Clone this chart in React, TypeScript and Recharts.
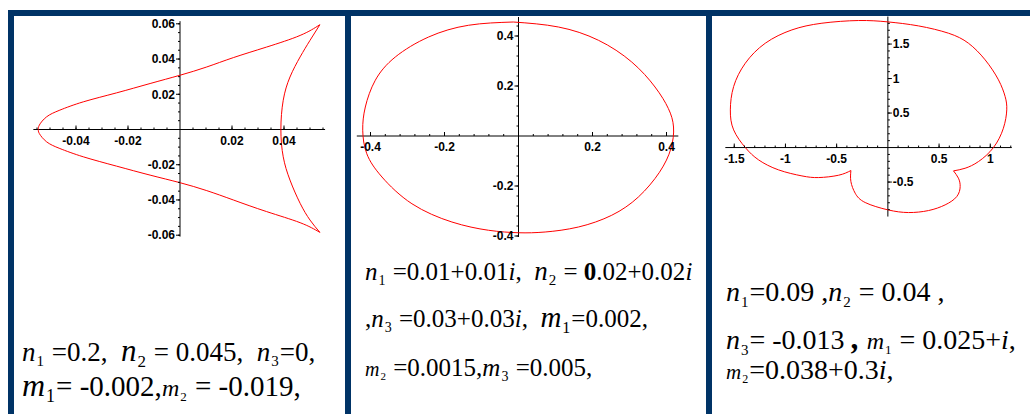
import React from "react";
import {
  LineChart,
  Line,
  XAxis,
  YAxis,
  ReferenceLine,
  ReferenceDot,
} from "recharts";

// ---- panel 1: cusped curve ----
const p1Branch = [
  { x: 0.0538, y: 0.0595 },
  { x: 0.0462, y: 0.0534 },
  { x: 0.0333, y: 0.0468 },
  { x: 0.0205, y: 0.0408 },
  { x: 0.0103, y: 0.0355 },
  { x: 0, y: 0.0308 },
  { x: -0.0115, y: 0.0261 },
  { x: -0.0244, y: 0.0208 },
  { x: -0.0372, y: 0.0157 },
  { x: -0.0462, y: 0.011 },
  { x: -0.0513, y: 0.0072 },
  { x: -0.0541, y: 0.0025 },
  { x: -0.0545, y: 0 },
  { x: -0.0541, y: -0.0023 },
  { x: -0.0513, y: -0.007 },
  { x: -0.0462, y: -0.0108 },
  { x: -0.0372, y: -0.0155 },
  { x: -0.0244, y: -0.0208 },
  { x: -0.0115, y: -0.0259 },
  { x: 0, y: -0.0302 },
  { x: 0.0103, y: -0.0347 },
  { x: 0.0205, y: -0.04 },
  { x: 0.0333, y: -0.0466 },
  { x: 0.0462, y: -0.0529 },
  { x: 0.0538, y: -0.0584 },
];
const p1Arc = [
  { x: 0.0538, y: -0.0584 },
  { x: 0.05, y: -0.0514 },
  { x: 0.0462, y: -0.0419 },
  { x: 0.0423, y: -0.0287 },
  { x: 0.0397, y: -0.0155 },
  { x: 0.0388, y: 0 },
  { x: 0.0397, y: 0.0166 },
  { x: 0.0423, y: 0.0298 },
  { x: 0.0462, y: 0.0412 },
  { x: 0.05, y: 0.0506 },
  { x: 0.0538, y: 0.0595 },
];
const p1XTicks = [-0.04, -0.02, 0.02, 0.04];
const p1XLabels = ["-0.04", "-0.02", "0.02", "0.04"];
const p1YTicks = [0.06, 0.04, 0.02, -0.02, -0.04, -0.06];
const p1YLabels = ["0.06", "0.04", "0.02", "-0.02", "-0.04", "-0.06"];

// ---- panel 2: oval ----
const p2Oval = [
  { x: -0.014, y: 0.456 },
  { x: 0.108, y: 0.436 },
  { x: 0.216, y: 0.383 },
  { x: 0.306, y: 0.296 },
  { x: 0.369, y: 0.196 },
  { x: 0.405, y: 0.11 },
  { x: 0.419, y: 0.036 },
  { x: 0.412, y: -0.05 },
  { x: 0.381, y: -0.145 },
  { x: 0.324, y: -0.244 },
  { x: 0.252, y: -0.317 },
  { x: 0.162, y: -0.364 },
  { x: 0.072, y: -0.384 },
  { x: 0, y: -0.387 },
  { x: -0.081, y: -0.377 },
  { x: -0.18, y: -0.344 },
  { x: -0.288, y: -0.271 },
  { x: -0.369, y: -0.164 },
  { x: -0.41, y: -0.071 },
  { x: -0.421, y: 0.023 },
  { x: -0.414, y: 0.116 },
  { x: -0.387, y: 0.223 },
  { x: -0.333, y: 0.316 },
  { x: -0.243, y: 0.396 },
  { x: -0.135, y: 0.443 },
  { x: -0.014, y: 0.456 },
];
const p2XTicks = [-0.4, -0.2, 0.2, 0.4];
const p2XLabels = ["-0.4", "-0.2", "0.2", "0.4"];
const p2YTicks = [0.4, 0.2, -0.2, -0.4];
const p2YLabels = ["0.4", "0.2", "-0.2", "-0.4"];

// ---- panel 3: big lobe + small lobe ----
const p3BigLobe = [
  { x: 0.641, y: -0.338 },
  { x: 0.754, y: -0.3 },
  { x: 0.885, y: -0.203 },
  { x: 1.031, y: 0 },
  { x: 1.128, y: 0.28 },
  { x: 1.161, y: 0.546 },
  { x: 1.145, y: 0.739 },
  { x: 1.08, y: 0.981 },
  { x: 0.95, y: 1.271 },
  { x: 0.787, y: 1.512 },
  { x: 0.592, y: 1.657 },
  { x: 0.299, y: 1.763 },
  { x: 0, y: 1.821 },
  { x: -0.286, y: 1.841 },
  { x: -0.644, y: 1.802 },
  { x: -0.937, y: 1.705 },
  { x: -1.197, y: 1.512 },
  { x: -1.392, y: 1.222 },
  { x: -1.506, y: 0.884 },
  { x: -1.538, y: 0.546 },
  { x: -1.506, y: 0.256 },
  { x: -1.392, y: 0 },
  { x: -1.262, y: -0.179 },
  { x: -1.067, y: -0.324 },
  { x: -0.839, y: -0.411 },
  { x: -0.676, y: -0.435 },
  { x: -0.481, y: -0.401 },
  { x: -0.361, y: -0.333 },
];
const p3SmallLobe = [
  { x: -0.361, y: -0.333 },
  { x: -0.361, y: -0.493 },
  { x: -0.319, y: -0.662 },
  { x: -0.221, y: -0.797 },
  { x: 0, y: -0.903 },
  { x: 0.202, y: -0.942 },
  { x: 0.397, y: -0.913 },
  { x: 0.559, y: -0.831 },
  { x: 0.673, y: -0.71 },
  { x: 0.706, y: -0.565 },
  { x: 0.689, y: -0.444 },
  { x: 0.641, y: -0.338 },
];
const p3XTicks = [-1.5, -1, -0.5, 0.5, 1];
const p3XLabels = ["-1.5", "-1", "-0.5", "0.5", "1"];
const p3YTicks = [1.5, 1, 0.5, -0.5];
const p3YLabels = ["1.5", "1", "0.5", "-0.5"];

const NAVY = "#003366";
const RED = "#ff0000";
const TICK_FONT = "Liberation Sans";
const MATH_FONT = "Liberation Serif";

function minorTicks(from: number, to: number, step: number) {
  const out: number[] = [];
  const n = Math.round((to - from) / step);
  for (let i = 0; i <= n; i++) {
    const v = +(from + i * step).toFixed(6);
    if (Math.abs(v) > 1e-9) out.push(v);
  }
  return out;
}

const tickText = {
  fontFamily: TICK_FONT,
  fontWeight: 700,
  fontSize: "12px",
};

type PanelProps = {
  left: number;
  top: number;
  width: number;
  height: number;
  xDomain: [number, number];
  yDomain: [number, number];
  xAxisExt: [number, number];
  yAxisExt: [number, number];
  xTicks: number[];
  xLabels: string[];
  yTicks: number[];
  yLabels: string[];
  xMinor: number[];
  yMinor: number[];
  yLabelSide: "left" | "right";
  curves: { x: number; y: number }[][];
};

function MaplePlot(props: PanelProps) {
  const {
    left, top, width, height, xDomain, yDomain, xAxisExt, yAxisExt,
    xTicks, xLabels, yTicks, yLabels, xMinor, yMinor, yLabelSide, curves,
  } = props;
  const side = yLabelSide === "left" ? -1 : 1;

  const xTickShape = (label: string | null, len: number) => (p: any) => (
    <g>
      <line x1={p.cx} x2={p.cx} y1={p.cy} y2={p.cy - len} stroke="#000" strokeWidth={1} />
      {label && (
        <text x={p.cx} y={p.cy + 15} textAnchor="middle" fill="#000" style={tickText}>
          {label}
        </text>
      )}
    </g>
  );
  const yTickShape = (label: string | null, len: number) => (p: any) => (
    <g>
      <line x1={p.cx} x2={p.cx + side * len} y1={p.cy} y2={p.cy} stroke="#000" strokeWidth={1} />
      {label && (
        <text
          x={p.cx + side * 5}
          y={p.cy + 4.3}
          textAnchor={side < 0 ? "end" : "start"}
          fill="#000"
          style={tickText}
        >
          {label}
        </text>
      )}
    </g>
  );

  return (
    <div style={{ position: "absolute", left, top }}>
      <LineChart width={width} height={height} margin={{ top: 0, right: 0, bottom: 0, left: 0 }}>
        <XAxis type="number" dataKey="x" domain={xDomain} allowDataOverflow hide />
        <YAxis type="number" dataKey="y" domain={yDomain} allowDataOverflow hide />
        <ReferenceLine
          segment={[{ x: xAxisExt[0], y: 0 }, { x: xAxisExt[1], y: 0 }]}
          stroke="#000"
          strokeWidth={1}
        />
        <ReferenceLine
          segment={[{ x: 0, y: yAxisExt[0] }, { x: 0, y: yAxisExt[1] }]}
          stroke="#000"
          strokeWidth={1}
        />
        {xMinor.map((t) => (
          <ReferenceDot key={"xm" + t} x={t} y={0} r={0} shape={xTickShape(null, 2)} />
        ))}
        {yMinor.map((t) => (
          <ReferenceDot key={"ym" + t} x={0} y={t} r={0} shape={yTickShape(null, 2)} />
        ))}
        {xTicks.map((t, i) => (
          <ReferenceDot key={"x" + t} x={t} y={0} r={0} shape={xTickShape(xLabels[i], 4)} />
        ))}
        {yTicks.map((t, i) => (
          <ReferenceDot key={"y" + t} x={0} y={t} r={0} shape={yTickShape(yLabels[i], 4)} />
        ))}
        {curves.map((c, i) => (
          <Line
            key={i}
            data={c}
            dataKey="y"
            type="natural"
            stroke={RED}
            strokeWidth={1}
            dot={false}
            activeDot={false}
            isAnimationActive={false}
          />
        ))}
      </LineChart>
    </div>
  );
}

type Seg =
  | { t: string; b?: boolean; it?: boolean; s?: number }
  | { v: string; sub: string; s: number };

// one line of a formula: italic symbols with small lowered subscripts
function MathLine({ x, y, size, segs }: { x: number; y: number; size: number; segs: Seg[] }) {
  const parts: React.ReactNode[] = [];
  let shift = 0;
  segs.forEach((g, i) => {
    if ("v" in g) {
      const d = Math.round(g.s * 0.2);
      parts.push(
        <tspan key={i + "v"} dy={-shift} style={{ fontStyle: "italic", fontSize: g.s + "px" }}>
          {g.v}
        </tspan>,
        <tspan key={i + "s"} dx={1} dy={d} style={{ fontSize: Math.round(g.s * 0.55) + "px" }}>
          {g.sub}
        </tspan>
      );
      shift = d;
    } else {
      parts.push(
        <tspan
          key={i}
          dx={shift ? 1 : 0}
          dy={-shift}
          style={{
            fontWeight: g.b ? 700 : 400,
            fontStyle: g.it ? "italic" : "normal",
            fontSize: (g.s ?? size) + "px",
          }}
        >
          {g.t}
        </tspan>
      );
      shift = 0;
    }
  });
  return (
    <text
      x={x}
      y={y}
      fill="#000"
      style={{ fontFamily: MATH_FONT, fontSize: size + "px", whiteSpace: "pre" }}
    >
      {parts}
    </text>
  );
}

export default function App() {
  return (
    <div
      style={{
        position: "absolute",
        left: 0,
        top: 0,
        width: 1032,
        height: 414,
        background: "#fff",
        overflow: "hidden",
      }}
    >
      <MaplePlot
        left={24}
        top={15}
        width={312}
        height={229}
        xDomain={[-0.06, 0.06]}
        yDomain={[-0.065, 0.065]}
        xAxisExt={[-0.0564, 0.0558]}
        yAxisExt={[-0.0608, 0.0615]}
        xTicks={p1XTicks}
        xLabels={p1XLabels}
        yTicks={p1YTicks}
        yLabels={p1YLabels}
        xMinor={minorTicks(-0.055, 0.055, 0.005)}
        yMinor={minorTicks(-0.06, 0.06, 0.005)}
        yLabelSide="left"
        curves={[p1Branch, p1Arc]}
      />
      <MaplePlot
        left={352}
        top={16}
        width={333}
        height={240}
        xDomain={[-0.45, 0.45]}
        yDomain={[-0.48, 0.48]}
        xAxisExt={[-0.437, 0.432]}
        yAxisExt={[-0.404, 0.476]}
        xTicks={p2XTicks}
        xLabels={p2XLabels}
        yTicks={p2YTicks}
        yLabels={p2YLabels}
        xMinor={minorTicks(-0.4, 0.4, 0.04)}
        yMinor={minorTicks(-0.4, 0.44, 0.04)}
        yLabelSide="left"
        curves={[p2Oval]}
      />
      <MaplePlot
        left={724}
        top={13}
        width={297}
        height={207}
        xDomain={[-1.6, 1.3]}
        yDomain={[-1.05, 1.95]}
        xAxisExt={[-1.587, 1.21]}
        yAxisExt={[-1.0, 1.899]}
        xTicks={p3XTicks}
        xLabels={p3XLabels}
        yTicks={p3YTicks}
        yLabels={p3YLabels}
        xMinor={minorTicks(-1.5, 1.2, 0.1)}
        yMinor={minorTicks(-0.9, 1.8, 0.1)}
        yLabelSide="right"
        curves={[p3BigLobe, p3SmallLobe]}
      />

      <svg width={1032} height={414} style={{ position: "absolute", left: 0, top: 0 }}>
        <MathLine
          x={22}
          y={361}
          size={27}
          segs={[
            { v: "n", sub: "1", s: 27 },
            { t: " =0.2,  " },
            { v: "n", sub: "2", s: 31 },
            { t: " = 0.045,  " },
            { v: "n", sub: "3", s: 27 },
            { t: "=0," },
          ]}
        />
        <MathLine
          x={22}
          y={396}
          size={29}
          segs={[
            { v: "m", sub: "1", s: 32 },
            { t: "= -0.002," },
            { v: "m", sub: "2", s: 24 },
            { t: " = -0.019," },
          ]}
        />
        <MathLine
          x={365}
          y={280}
          size={25}
          segs={[
            { v: "n", sub: "1", s: 25 },
            { t: " =0.01+0.01" },
            { t: "i", it: true },
            { t: ",  " },
            { v: "n", sub: "2", s: 27 },
            { t: " = " },
            { t: "0", b: true },
            { t: ".02+0.02" },
            { t: "i", it: true },
          ]}
        />
        <MathLine
          x={365}
          y={327}
          size={25}
          segs={[
            { t: "," },
            { v: "n", sub: "3", s: 25 },
            { t: " =0.03+0.03" },
            { t: "i", it: true },
            { t: ",  " },
            { v: "m", sub: "1", s: 29 },
            { t: "=0.002," },
          ]}
        />
        <MathLine
          x={365}
          y={376}
          size={25}
          segs={[
            { v: "m", sub: "2", s: 20 },
            { t: " =0.0015," },
            { v: "m", sub: "3", s: 25 },
            { t: " =0.005," },
          ]}
        />
        <MathLine
          x={726}
          y={301}
          size={28}
          segs={[
            { v: "n", sub: "1", s: 28 },
            { t: "=0.09 ," },
            { v: "n", sub: "2", s: 28 },
            { t: " = 0.04 ," },
          ]}
        />
        <MathLine
          x={726}
          y={349}
          size={28}
          segs={[
            { v: "n", sub: "3", s: 28 },
            { t: "= -0.013 " },
            { t: ",", b: true, it: true, s: 32 },
            { t: " " },
            { v: "m", sub: "1", s: 24 },
            { t: " = 0.025+" },
            { t: "i", it: true },
            { t: "," },
          ]}
        />
        <MathLine
          x={726}
          y={379}
          size={28}
          segs={[
            { v: "m", sub: "2", s: 21 },
            { t: "=0.038+0.3" },
            { t: "i", it: true },
            { t: "," },
          ]}
        />
      </svg>

      <div style={{ position: "absolute", left: 8, top: 10, width: 1022, height: 6, background: NAVY }} />
      <div style={{ position: "absolute", left: 8, top: 10, width: 6, height: 404, background: NAVY }} />
      <div style={{ position: "absolute", left: 345, top: 10, width: 6, height: 404, background: NAVY }} />
      <div style={{ position: "absolute", left: 706, top: 10, width: 6, height: 404, background: NAVY }} />
    </div>
  );
}
